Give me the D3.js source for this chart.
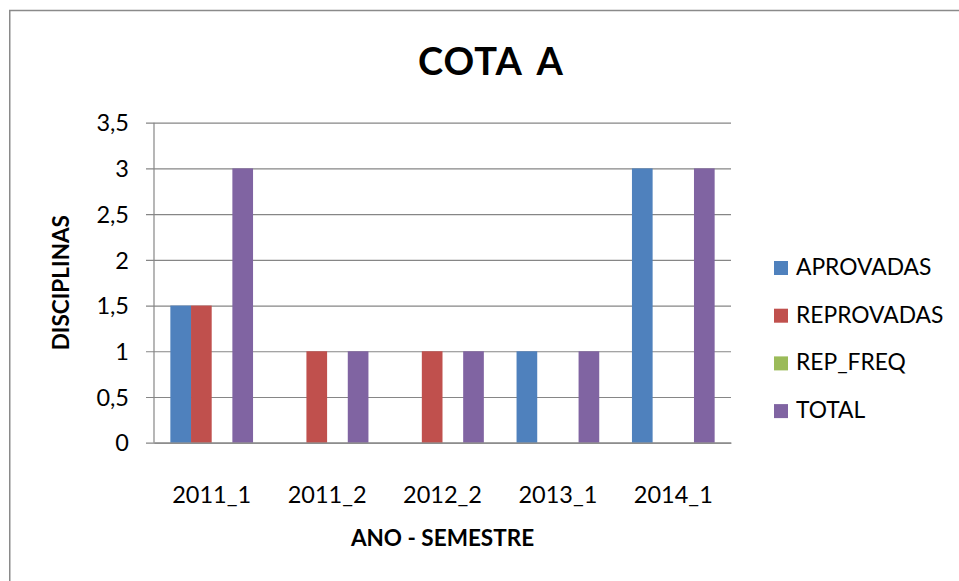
<!DOCTYPE html>
<html>
<head>
<meta charset="utf-8">
<script src="https://cdn.jsdelivr.net/npm/d3@7"></script>
<style>
  body { margin: 0; background: #fff; }
  text { font-family: Lato, "Open Sans", sans-serif; fill: #000; }
</style>
</head>
<body>
<div id="chart"></div>
<script>
const categories = ['2011_1', '2011_2', '2012_2', '2013_1', '2014_1'];
const seriesNames = ['APROVADAS', 'REPROVADAS', 'REP_FREQ', 'TOTAL'];
const aprovadas = [1.5, 0, 0, 1, 3];
const reprovadas = [1.5, 1, 1, 0, 0];
const repFreq = [0, 0, 0, 0, 0];
const total = [3, 1, 1, 1, 3];
const yTicks = [0, 0.5, 1, 1.5, 2, 2.5, 3, 3.5];
const colors = ['#4F81BD', '#C0504D', '#9BBB59', '#8064A2'];

const seriesValues = [aprovadas, reprovadas, repFreq, total];

const [svgWidth, svgHeight] = [959, 581];
const margin = { left: 154, top: 122.7, right: 228, bottom: 138.3 };
const [width, height] = [svgWidth - margin.left - margin.right, svgHeight - margin.top - margin.bottom];

function translate(x, y) {
    return 'translate(' + x + ',' + y + ')';
}

let svg = d3.select('#chart').append('svg')
    .attr('width', svgWidth)
    .attr('height', svgHeight);

// outer chart border (right / bottom edges fall outside the picture)
svg.append('rect')
    .attr('x', 9.75).attr('y', 10.5)
    .attr('width', 970).attr('height', 600)
    .style('fill', 'none')
    .style('stroke', '#8a8a8a')
    .style('stroke-width', 1.5);

svg.append('text')
    .attr('x', 491).attr('y', 75)
    .attr('text-anchor', 'middle')
    .style('font-size', '38px')
    .style('font-weight', 'bold')
    .style('word-spacing', '6px')
    .style('letter-spacing', '1px')
    .text('COTA A');

let chart = svg.append('g').attr('transform', translate(margin.left, margin.top));

let x0 = d3.scaleBand().domain(categories).range([0, width])
    .paddingInner(0.2834).paddingOuter(0.1417);
let x1 = d3.scaleBand().domain(seriesNames).range([0, x0.bandwidth()]);
let y = d3.scaleLinear().domain([0, 3.5]).range([height, 0]);

const fmt = d => String(d).replace('.', ',');

// gridlines + y axis
let yAxis = chart.append('g')
    .call(d3.axisLeft(y).tickValues(yTicks).tickSize(-width).tickSizeOuter(0).tickFormat(fmt));
yAxis.select('.domain').remove();
yAxis.selectAll('.tick line')
    .attr('x1', -8)
    .style('stroke', '#868686').style('stroke-width', 1.2);
yAxis.selectAll('.tick text')
    .attr('x', -25)
    .attr('dy', '0.35em')
    .style('font-size', '23.5px')
    .style('font-family', 'Lato, sans-serif');

chart.append('line')
    .attr('x1', 0).attr('x2', 0).attr('y1', 0).attr('y2', height)
    .style('stroke', '#868686').style('stroke-width', 1.2);

// bars
let groups = chart.selectAll('.group')
    .data(categories)
    .enter().append('g')
    .attr('class', 'group')
    .attr('transform', d => translate(x0(d), 0));

groups.selectAll('rect')
    .data((c, i) => seriesNames.map((s, j) => ({ s: s, v: seriesValues[j][i], c: colors[j] })))
    .enter().append('rect')
    .attr('x', d => x1(d.s))
    .attr('width', x1.bandwidth())
    .attr('y', d => y(d.v))
    .attr('height', d => height - y(d.v))
    .style('fill', d => d.c);

// x axis
let xAxis = chart.append('g')
    .attr('transform', translate(0, height))
    .call(d3.axisBottom(x0).tickSize(0).tickSizeOuter(0));
xAxis.select('.domain').style('stroke', '#868686').style('stroke-width', 1.2);
xAxis.selectAll('.tick text')
    .attr('y', 0)
    .attr('dy', 60)
    .style('font-size', '23.5px')
    .style('font-family', 'Lato, sans-serif');

// axis titles
svg.append('text')
    .attr('x', margin.left + width / 2).attr('y', 546)
    .attr('text-anchor', 'middle')
    .style('font-size', '22.5px').style('font-weight', 'bold')
    .text('ANO - SEMESTRE');

svg.append('text')
    .attr('transform', translate(69, margin.top + height / 2) + ' rotate(-90)')
    .attr('text-anchor', 'middle')
    .style('font-size', '22.5px').style('font-weight', 'bold')
    .text('DISCIPLINAS');

// legend
let legend = svg.append('g').attr('transform', translate(774, 275));
let items = legend.selectAll('.item')
    .data(seriesNames)
    .enter().append('g')
    .attr('class', 'item')
    .attr('transform', (d, i) => translate(0, i * 47.7));
items.append('rect')
    .attr('x', 0).attr('y', -14)
    .attr('width', 14).attr('height', 14)
    .style('fill', (d, i) => colors[i]);
items.append('text')
    .attr('x', 22).attr('y', 0)
    .style('font-size', '22.8px')
    .text(d => d);
</script>
</body>
</html>
